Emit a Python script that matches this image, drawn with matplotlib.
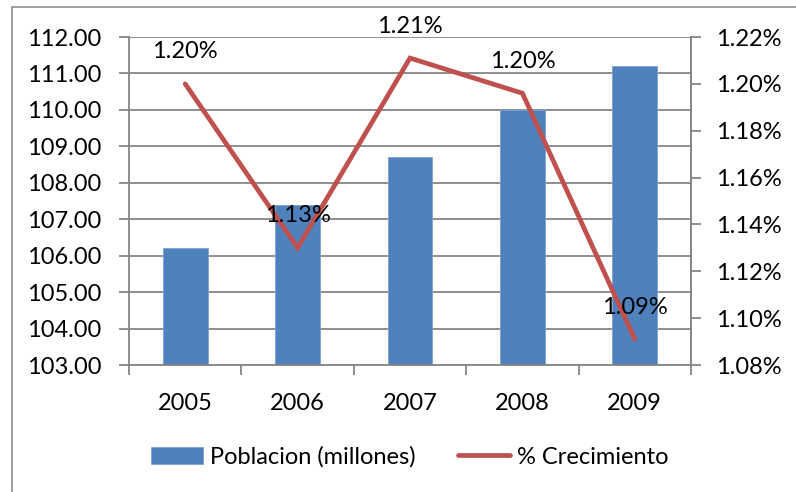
import matplotlib
matplotlib.use("Agg")
import matplotlib.pyplot as plt
from matplotlib.patches import Rectangle, Patch
from matplotlib.lines import Line2D
from matplotlib.ticker import FuncFormatter, MultipleLocator
import numpy as np

years = ["2005", "2006", "2007", "2008", "2009"]
poblacion = [106.2, 107.4, 108.7, 110.0, 111.2]
crecimiento = [1.200, 1.130, 1.211, 1.196, 1.091]
crec_labels = ["1.20%", "1.13%", "1.21%", "1.20%", "1.09%"]

plt.rcParams['font.family'] = ['Lato', 'DejaVu Sans']
FS = 17
W, H = 796, 492
fig = plt.figure(figsize=(W/100, H/100), dpi=100)

grid_c = '#868686'
bar_c = '#4F81BD'
line_c = '#C0504D'

# outer chart border
fig.patches.append(Rectangle((12/W, -0.1), 1.2, 1 - 7/H + 0.1, transform=fig.transFigure,
                             fill=False, edgecolor='#8C8C8C', linewidth=1.2))

ax = fig.add_axes([129/W, (H-365)/H, (691-129)/W, (365-37)/H])
x = np.arange(len(years))
ax.bar(x, poblacion, width=0.4, color=bar_c, edgecolor='#7EA1D1', linewidth=0.6, zorder=2,
       bottom=0)
ax.set_xlim(-0.5, len(years) - 0.5)
ax.set_ylim(103, 112)
ax.yaxis.set_major_locator(MultipleLocator(1))
ax.yaxis.set_major_formatter(FuncFormatter(lambda v, p: f"{v:.2f}"))
ax.grid(axis='y', color=grid_c, linewidth=1.3, zorder=0)
ax.set_axisbelow(True)
ax.set_xticks(x)
ax.set_xticklabels(years)
ax.set_xticks(np.arange(-0.5, len(years)), minor=True)
ax.tick_params(axis='x', which='major', length=0, pad=20, labelsize=FS)
ax.tick_params(axis='x', which='minor', length=7, width=1.3, color=grid_c, direction='out')
ax.tick_params(axis='y', length=7, width=1.3, color=grid_c, direction='out', pad=13, labelsize=FS)
for s in ['top']:
    ax.spines[s].set_visible(False)
for s in ['left', 'bottom', 'right']:
    ax.spines[s].set_color(grid_c)
    ax.spines[s].set_linewidth(1.3)

ax2 = ax.twinx()
ax2.plot(x, crecimiento, color=line_c, linewidth=3.4, solid_capstyle='round',
         solid_joinstyle='miter', zorder=3)
ax2.set_ylim(1.08, 1.22)
ax2.set_yticks(np.arange(1.08, 1.2201, 0.02))
ax2.yaxis.set_major_formatter(FuncFormatter(lambda v, p: f"{v:.2f}%"))
ax2.tick_params(axis='y', length=7, width=1.3, color=grid_c, direction='out', pad=11, labelsize=FS)
for s in ['top', 'left', 'bottom']:
    ax2.spines[s].set_visible(False)
ax2.spines['right'].set_color(grid_c)
ax2.spines['right'].set_linewidth(1.3)

for xi, yi, lab in zip(x, crecimiento, crec_labels):
    ax2.annotate(lab, (xi, yi), xytext=(0, 23), textcoords='offset points',
                 ha='center', va='center', fontsize=FS, color='black', zorder=5)

handles = [Patch(facecolor=bar_c, edgecolor='#7EA1D1', linewidth=0.6),
           Line2D([0], [0], color=line_c, linewidth=3.4, solid_capstyle='round')]
fig.legend(handles, ["Poblacion (millones)", "% Crecimiento"], loc='center',
           bbox_to_anchor=(410/W, 1 - 457/H), ncol=2, frameon=False, fontsize=FS,
           handlelength=2.2, handletextpad=0.3, columnspacing=1.8, borderpad=0)

fig.savefig("out.png", dpi=100)
